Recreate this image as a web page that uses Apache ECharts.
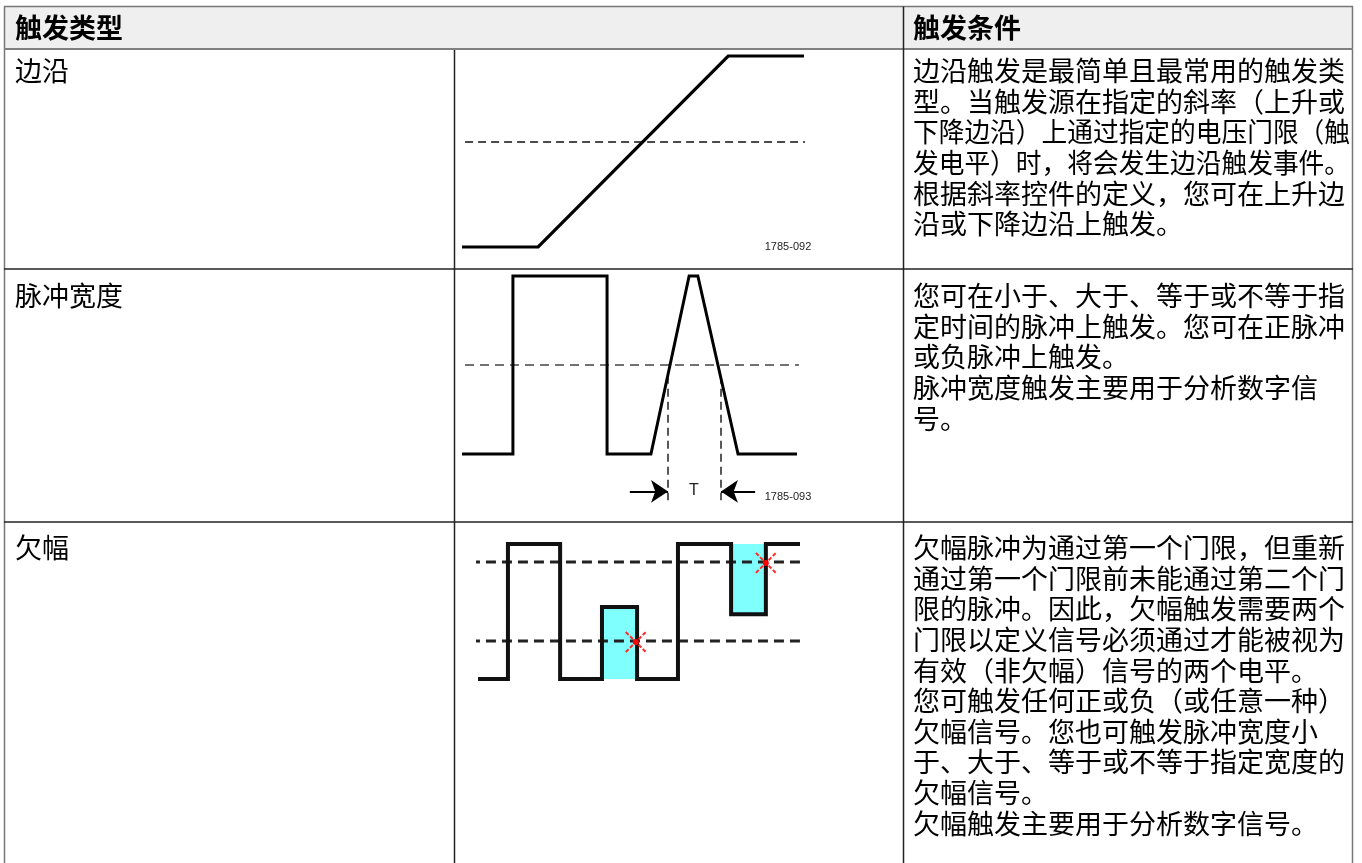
<!DOCTYPE html>
<html><head><meta charset="utf-8">
<script src="https://cdn.jsdelivr.net/npm/echarts@6.0.0/dist/echarts.min.js"></script>
<style>html,body{margin:0;padding:0;background:#fff}#c{width:1362px;height:863px}</style>
</head><body><div id="c"></div>
<script>
// ---------- table text ----------
const headerTexts = ['触发类型', '触发条件'];
const typeNames = ['边沿', '脉冲宽度', '欠幅'];
const conditionRow1 = ['边沿触发是最简单且最常用的触发类', '型。当触发源在指定的斜率（上升或', '下降边沿）上通过指定的电压门限（触', '发电平）时，将会发生边沿触发事件。', '根据斜率控件的定义，您可在上升边', '沿或下降边沿上触发。'];
const conditionRow2 = ['您可在小于、大于、等于或不等于指', '定时间的脉冲上触发。您可在正脉冲', '或负脉冲上触发。', '脉冲宽度触发主要用于分析数字信', '号。'];
const conditionRow3 = ['欠幅脉冲为通过第一个门限，但重新', '通过第一个门限前未能通过第二个门', '限的脉冲。因此，欠幅触发需要两个', '门限以定义信号必须通过才能被视为', '有效（非欠幅）信号的两个电平。', '您可触发任何正或负（或任意一种）', '欠幅信号。您也可触发脉冲宽度小', '于、大于、等于或不等于指定宽度的', '欠幅信号。', '欠幅触发主要用于分析数字信号。'];
const figureIds = ['1785-092', '1785-093'];
const widthLabel = 'T';

// ---------- diagram data (time 0..100, level 0=low 1=high) ----------
const edgeTime = [0, 22.2, 77.6, 99.7];
const edgeLevel = [0, 0, 1, 1];
const edgeThreshold = 0.55;
const edgeThresholdSpan = [0.9, 100];

const pulseTime = [0, 15.2, 15.2, 43.3, 43.3, 56.4, 67.8, 70.4, 82.4, 100];
const pulseLevel = [0, 0, 1, 1, 0, 0, 1, 1, 0, 0];
const pulseThreshold = 0.5;
const pulseThresholdSpan = [0.9, 101.8];
const pulseWidthMarks = [61.5, 77.3];
const pulseWidthMarkLevels = [0.44, -0.26];
const pulseArrowLevel = -0.21;
const pulseArrowTails = [50.1, 87.5];

const runtTime = [0, 9.3, 9.3, 25.5, 25.5, 38.5, 38.5, 49.4, 49.4, 62.1, 62.1, 78.6, 78.6, 89.4, 89.4, 100];
const runtLevel = [0, 0, 1, 1, 0, 0, 0.533, 0.533, 0, 0, 1, 1, 0.48, 0.48, 1, 1];
const runtThresholds = [0.867, 0.281];
const runtThresholdSpan = [-2.5, 102.2];
const runtRegionTime = [[38.5, 49.4], [78.6, 89.4]];
const runtRegionLevel = [[-0.02, 0.533], [0.48, 1]];
const runtViolationTime = [49.0, 89.4];
const runtViolationLevel = [0.274, 0.86];

const pairs = (xs, ys) => xs.map((x, i) => [x, ys[i]]);

const chart = echarts.init(document.getElementById('c'), null, {renderer: 'canvas'});

const CJK = '"Noto Sans CJK SC", "Noto Sans", sans-serif';
const FS = 27;
const LINE = 30.6;
const textEls = [];
function addLines(lines, x, y0, step) {
  lines.forEach((t, i) => {
    const w = t.length * FS;
    const maxW = 1350 - x;
    const el = {type: 'text', x: x, y: y0 + i * step, z: 10,
      style: {text: t, font: FS + 'px ' + CJK, fill: '#000', textAlign: 'left', textVerticalAlign: 'middle'}};
    if (w > maxW) el.scaleX = maxW / w;
    textEls.push(el);
  });
}
const rowStarts = [71, 296, 548];
// header
textEls.push({type: 'text', x: 15, y: 28, z: 10, style: {text: headerTexts[0], font: 'bold ' + FS + 'px ' + CJK, fill: '#000', textVerticalAlign: 'middle'}});
textEls.push({type: 'text', x: 913, y: 28, z: 10, style: {text: headerTexts[1], font: 'bold ' + FS + 'px ' + CJK, fill: '#000', textVerticalAlign: 'middle'}});
// type names
rowStarts.forEach((y, i) => {
  textEls.push({type: 'text', x: 15, y: y, z: 10, style: {text: typeNames[i], font: FS + 'px ' + CJK, fill: '#000', textVerticalAlign: 'middle'}});
});
addLines(conditionRow1, 913, rowStarts[0], LINE);
addLines(conditionRow2, 913, rowStarts[1], LINE);
addLines(conditionRow3, 913, rowStarts[2], LINE);

const NARROW = '"Liberation Sans Narrow", "Liberation Sans", Arial, sans-serif';
textEls.push({type: 'text', x: 788, y: 247, z: 10, style: {text: figureIds[0], font: '11px ' + NARROW, fill: '#222', textAlign: 'center', textVerticalAlign: 'middle'}});
textEls.push({type: 'text', x: 788, y: 497, z: 10, style: {text: figureIds[1], font: '11px ' + NARROW, fill: '#222', textAlign: 'center', textVerticalAlign: 'middle'}});
textEls.push({type: 'text', x: 694, y: 491, z: 10, style: {text: widthLabel, font: '16px ' + NARROW, fill: '#222', textAlign: 'center', textVerticalAlign: 'middle'}});

// table frame
const frame = [
  {type: 'rect', shape: {x: 4, y: 6.5, width: 1349, height: 42.5}, style: {fill: '#efefef'}, z: 0},
  {type: 'line', shape: {x1: 4, y1: 6.5, x2: 1353, y2: 6.5}, style: {stroke: '#777', lineWidth: 1.5}, z: 5},
  {type: 'line', shape: {x1: 4.5, y1: 6, x2: 4.5, y2: 863}, style: {stroke: '#777', lineWidth: 1.5}, z: 5},
  {type: 'line', shape: {x1: 1352.5, y1: 6, x2: 1352.5, y2: 863}, style: {stroke: '#777', lineWidth: 1.5}, z: 5},
  {type: 'line', shape: {x1: 4, y1: 49, x2: 1353, y2: 49}, style: {stroke: '#808080', lineWidth: 2}, z: 5},
  {type: 'line', shape: {x1: 454.5, y1: 50, x2: 454.5, y2: 863}, style: {stroke: '#222', lineWidth: 1.5}, z: 5},
  {type: 'line', shape: {x1: 903.5, y1: 6.5, x2: 903.5, y2: 863}, style: {stroke: '#222', lineWidth: 1.5}, z: 5},
  {type: 'line', shape: {x1: 4, y1: 269, x2: 1353, y2: 269}, style: {stroke: '#222', lineWidth: 1.5}, z: 5},
  {type: 'line', shape: {x1: 4, y1: 522, x2: 1353, y2: 522}, style: {stroke: '#222', lineWidth: 1.5}, z: 5}
];

const grids = [
  {left: 462, top: 56, width: 343, height: 191},
  {left: 462, top: 276, width: 335, height: 178},
  {left: 478, top: 544, width: 322, height: 135}
];
const xAxes = grids.map((g, i) => ({type: 'value', gridIndex: i, min: 0, max: 100, show: false}));
const yAxes = grids.map((g, i) => ({type: 'value', gridIndex: i, min: 0, max: 1, show: false}));

const base = {symbol: 'none', clip: false, silent: true, animation: false};
const series = [];
// edge
series.push(Object.assign({type: 'line', xAxisIndex: 0, yAxisIndex: 0, z: 3, data: pairs(edgeTime, edgeLevel),
  lineStyle: {color: '#000', width: 3.2, join: 'miter'}}, base));
series.push(Object.assign({type: 'line', xAxisIndex: 0, yAxisIndex: 0, z: 2,
  data: edgeThresholdSpan.map(x => [x, edgeThreshold]), lineStyle: {color: '#111', width: 1.6, type: [8, 5]}}, base));
// pulse width
series.push(Object.assign({type: 'line', xAxisIndex: 1, yAxisIndex: 1, z: 3, data: pairs(pulseTime, pulseLevel),
  lineStyle: {color: '#000', width: 3, join: 'miter'}}, base));
series.push(Object.assign({type: 'line', xAxisIndex: 1, yAxisIndex: 1, z: 2,
  data: pulseThresholdSpan.map(x => [x, pulseThreshold]), lineStyle: {color: '#444', width: 1.6, type: [9, 6]}}, base));
series.push({type: 'lines', coordinateSystem: 'cartesian2d', xAxisIndex: 1, yAxisIndex: 1, silent: true, clip: false, z: 2,
  data: pulseWidthMarks.map(x => ({coords: [[x, pulseWidthMarkLevels[0]], [x, pulseWidthMarkLevels[1]]]})),
  lineStyle: {color: '#222', width: 1.5, type: [8, 5], opacity: 1}});
series.push({type: 'lines', coordinateSystem: 'cartesian2d', xAxisIndex: 1, yAxisIndex: 1, silent: true, clip: false, z: 3,
  symbol: ['none', 'arrow'], symbolSize: [11, 17],
  data: pulseArrowTails.map((x, i) => ({coords: [[x, pulseArrowLevel], [pulseWidthMarks[i], pulseArrowLevel]]})),
  lineStyle: {color: '#000', width: 2, opacity: 1}, itemStyle: {color: '#000'}});
// runt
series.push({type: 'line', xAxisIndex: 2, yAxisIndex: 2, z: 1, silent: true, data: [], symbol: 'none',
  markArea: {silent: true, itemStyle: {color: '#80ffff', opacity: 1},
    data: runtRegionTime.map((t, i) => [{coord: [t[0], runtRegionLevel[i][0]]}, {coord: [t[1], runtRegionLevel[i][1]]}])}});
runtThresholds.forEach(lv => {
  series.push(Object.assign({type: 'line', xAxisIndex: 2, yAxisIndex: 2, z: 2,
    data: runtThresholdSpan.map(x => [x, lv]), lineStyle: {color: '#222', width: 3, type: [10, 6]}}, base));
});
series.push(Object.assign({type: 'line', xAxisIndex: 2, yAxisIndex: 2, z: 4, data: pairs(runtTime, runtLevel),
  lineStyle: {color: '#111', width: 4, join: 'miter'}}, base));
series.push({type: 'custom', xAxisIndex: 2, yAxisIndex: 2, z: 6, silent: true, clip: false,
  data: pairs(runtViolationTime, runtViolationLevel),
  renderItem: (params, api) => {
    const p = api.coord([api.value(0), api.value(1)]);
    const s = 10;
    const st = {stroke: '#ff2a2a', lineWidth: 2, lineDash: [4, 2]};
    return {type: 'group', children: [
      {type: 'line', shape: {x1: p[0] - s, y1: p[1] - s, x2: p[0] + s, y2: p[1] + s}, style: st},
      {type: 'line', shape: {x1: p[0] - s, y1: p[1] + s, x2: p[0] + s, y2: p[1] - s}, style: st},
      {type: 'circle', shape: {cx: p[0], cy: p[1], r: 3}, style: {fill: '#ff0000'}}
    ]};
  }});

chart.setOption({
  backgroundColor: '#fff',
  animation: false,
  grid: grids,
  xAxis: xAxes,
  yAxis: yAxes,
  series: series,
  graphic: {elements: frame.concat(textEls)}
});
</script></body></html>
